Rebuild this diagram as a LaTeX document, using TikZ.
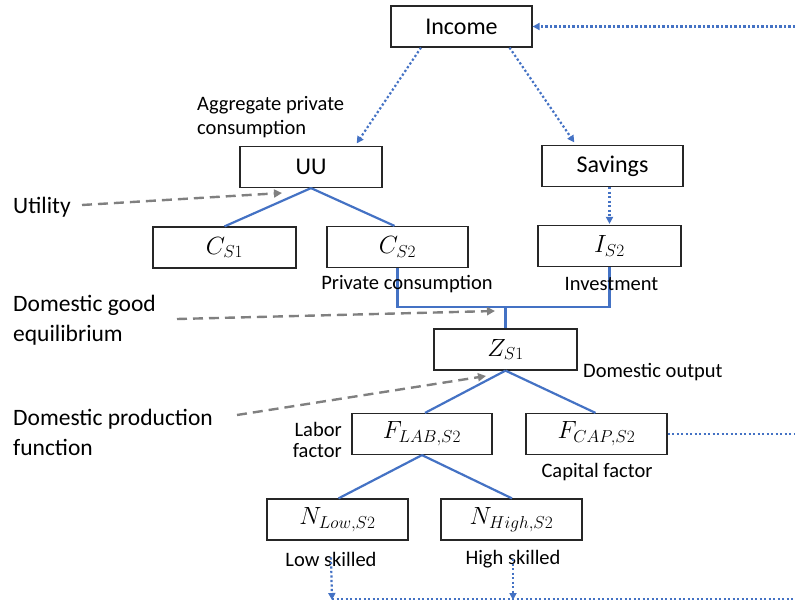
\documentclass[tikz,border=0pt]{standalone}
\usepackage{fontspec}
\setmainfont{Carlito}
\usetikzlibrary{arrows.meta}
\definecolor{myblue}{HTML}{4472C4}
\definecolor{mygray}{HTML}{808080}
\begin{document}
\begin{tikzpicture}[x=1pt,y=-1pt,
  box/.style={draw=black!85, line width=1.2pt, minimum height=41pt, inner sep=0pt, fill=white,
    font=\fontsize{24}{28}\selectfont},
  mbox/.style={box, font=\fontsize{23}{28}\selectfont},
  blueline/.style={draw=myblue, line width=2.2pt},
  dotline/.style={draw=myblue, line width=2.2pt, dash pattern=on 2.2pt off 2.3pt},
  dotarrow/.style={dotline, -{Triangle[length=7pt,width=7pt]}},
  grayarrow/.style={draw=mygray, line width=2.4pt, dash pattern=on 10pt off 6pt, -{Triangle[length=8pt,width=8pt]}},
  biglbl/.style={font=\fontsize{23.5}{30}\selectfont, align=left, inner sep=0pt},
  smlbl/.style={font=\fontsize{20.5}{24}\selectfont, inner sep=1pt},
]
\useasboundingbox (0,0) rectangle (795,604);

% boxes
\node[box, minimum width=141pt] (inc) at (461.5,26.5) {Income};
\node[box, minimum width=142pt] (uu) at (311,167) {UU};
\node[box, minimum width=141pt] (sav) at (612.5,166) {Savings};
\node[mbox, minimum width=143pt] (cs1) at (224.5,247.5) {$C_{S1}$};
\node[mbox, minimum width=141pt] (cs2) at (397.5,247) {$C_{S2}$};
\node[mbox, minimum width=143pt] (is2) at (609.5,246) {$I_{S2}$};
\node[mbox, minimum width=143pt] (zs1) at (505.5,349.5) {$Z_{S1}$};
\node[mbox, minimum width=140pt] (flab) at (422,434) {$F_{LAB,S2}$};
\node[mbox, minimum width=141pt] (fcap) at (596.5,434) {$F_{CAP,S2}$};
\node[mbox, minimum width=141pt] (nlow) at (337.5,519.5) {$N_{Low,S2}$};
\node[mbox, minimum width=141pt] (nhigh) at (511.5,519.5) {$N_{High,S2}$};

% free-end coordinates
\coordinate (incR) at (795,26.5);
\coordinate (capR) at (795,434);
\coordinate (bj) at (505.5,307);
\coordinate (botL) at (332,599);
\coordinate (botR) at (795,599);
\coordinate (utilStart) at (82,205);
\coordinate (utilEnd) at (282,193);
\coordinate (eqStart) at (177,319);
\coordinate (eqEnd) at (495,311);
\coordinate (prodStart) at (237,415);
\coordinate (prodEnd) at (486,376);

% labels
\node[smlbl, font=\fontsize{20.5}{24}\selectfont, align=left, anchor=west] (agg) at (196,117) {Aggregate private\\consumption};
\node[biglbl, anchor=west] (util) at (13,207) {Utility};
\node[biglbl, anchor=west] (equ) at (13,320) {Domestic good\\equilibrium};
\node[biglbl, anchor=west] (prod) at (13,432.5) {Domestic production\\function};
\node[smlbl, align=right, anchor=east, font=\fontsize{20.5}{21}\selectfont] (labf) at (343,439.5) {Labor\\factor};
\node[smlbl, anchor=west] (dout) at (582,372) {Domestic output};
\node[smlbl] (capf) at (597,472) {Capital factor};
\node[smlbl] (lows) at (331,559) {Low skilled};
\node[smlbl] (highs) at (513,559) {High skilled};

% income flows
\draw[dotarrow] (incR) -- (inc.east);
\draw[dotarrow, shorten >=3pt] ([xshift=-40.5pt]inc.south) -- ([xshift=44pt]uu.north);
\draw[dotarrow, shorten >=3pt] ([xshift=48pt]inc.south) -- ([xshift=-36.5pt]sav.north);
\draw[dotarrow, shorten >=1pt] (is2.north |- sav.south) -- (is2.north);

% utility tree
\draw[blueline] (uu.south) -- (cs1.north);
\draw[blueline] (uu.south) -- ([xshift=-3pt]cs2.north);

% equilibrium bracket
\draw[blueline] (cs2.south) |- (bj) -| (is2.south);
\draw[blueline] (bj) -- (zs1.north);
\node[smlbl] (pc) at (407,284) {Private consumption};
\node[smlbl] (inv) at (611.5,284) {Investment};

% production tree
\draw[blueline] (zs1.south) -- ([xshift=3pt]flab.north);
\draw[blueline] (zs1.south) -- ([xshift=-1pt]fcap.north);
\draw[blueline] (flab.south) -- ([xshift=1pt]nlow.north);
\draw[blueline] (flab.south) -- ([xshift=0.5pt]nhigh.north);
\draw[dotline] (fcap.east) -- (capR);

% bottom loop
\draw[dotarrow] ([yshift=10pt]lows.south) -- ([yshift=-1pt]botL);
\draw[dotarrow] ([yshift=10pt]highs.south) -- ([yshift=-1pt]botR -| highs.south);
\draw[dotline] (botL) -- (botR);

% gray dashed arrows
\draw[grayarrow] (utilStart) -- (utilEnd);
\draw[grayarrow] (eqStart) -- (eqEnd);
\draw[grayarrow] (prodStart) -- (prodEnd);
\end{tikzpicture}
\end{document}
